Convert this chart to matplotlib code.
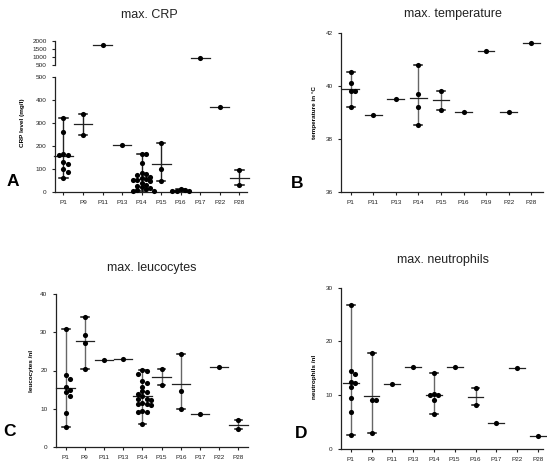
import numpy as np
import matplotlib
matplotlib.use('Agg')
import matplotlib.pyplot as plt

plt.rcParams['font.family'] = ['Liberation Sans', 'DejaVu Sans']

# ---------------------------------------------------------
# Data
# ---------------------------------------------------------
crp_labels = ['P1', 'P9', 'P11', 'P13', 'P14', 'P15', 'P16', 'P17', 'P22', 'P28']
crp_values = [
    [320, 260, 165, 160, 160, 130, 120, 100, 85, 60],
    [340, 250],
    [1700],
    [203],
    [165, 163, 125, 82, 78, 72, 65, 60, 55, 52, 50, 45, 40, 30, 25, 20, 15, 10, 6, 4, 2],
    [213, 100, 45],
    [12, 8, 5, 4, 2],
    [900],
    [370],
    [93, 28],
]

temp_labels = ['P1', 'P11', 'P13', 'P14', 'P15', 'P16', 'P19', 'P22', 'P28']
temp_values = [
    [40.5, 40.1, 39.8, 39.8, 39.2],
    [38.9],
    [39.5],
    [40.8, 39.7, 39.2, 38.5],
    [39.8, 39.1],
    [39.0],
    [41.3],
    [39.0],
    [41.6],
]

leuco_labels = ['P1', 'P9', 'P11', 'P13', 'P14', 'P15', 'P16', 'P17', 'P22', 'P28']
leuco_values = [
    [31.0, 18.8, 17.7, 15.8, 14.8, 14.3, 13.3, 8.8, 5.3],
    [34.0, 29.4, 27.1, 20.5],
    [22.7],
    [23.0],
    [20.1, 19.9, 19.2, 17.3, 16.7, 15.8, 14.5, 14.3, 13.8, 13.3, 12.5, 12.5,
     12.2, 11.5, 11.2, 11.2, 11.0, 9.5, 9.1, 9.0, 6.0],
    [20.3, 16.3],
    [24.4, 14.7, 10.0],
    [8.7],
    [20.9],
    [6.9, 4.6],
]

neutro_labels = ['P1', 'P9', 'P11', 'P13', 'P14', 'P15', 'P16', 'P17', 'P22', 'P28']
neutro_values = [
    [26.7, 14.6, 13.9, 12.5, 12.2, 11.6, 9.5, 6.8, 2.6],
    [17.8, 9.2, 9.2, 2.9],
    [12.0],
    [15.2],
    [14.1, 10.3, 10.0, 10.0, 9.2, 6.6],
    [15.2],
    [11.4, 8.1],
    [4.9],
    [15.1],
    [2.4],
]

FIG_W, FIG_H, DPI = 5.47, 4.62, 100
DOT_PX = 4.2      # spacing used by the swarm layout
TICK_FS = 4.6


def swarm_x(ax, xc, vals):
    """simple beeswarm: spread overlapping points sideways"""
    fig = ax.figure
    bbox = ax.get_position()
    x0, x1 = ax.get_xlim()
    y0, y1 = ax.get_ylim()
    px_x = bbox.width * fig.get_figwidth() * fig.dpi / (x1 - x0)
    px_y = bbox.height * fig.get_figheight() * fig.dpi / (y1 - y0)
    placed = []
    xs = []
    for v in vals:
        yp = v * px_y
        k = 0
        while True:
            step = (k + 1) // 2 * (1 if k % 2 else -1) if k else 0
            xp = step * DOT_PX
            if all((xp - a) ** 2 + (yp - b) ** 2 >= DOT_PX ** 2 for a, b in placed):
                break
            k += 1
        placed.append((xp, yp))
        xs.append(xc + xp / px_x)
    return xs


def style_axis(ax, labels, ylim, yticks, ylabel=None, show_x=True):
    ax.set_ylim(*ylim)
    ax.set_yticks(yticks)
    ax.set_yticklabels([str(t) for t in yticks])
    for s in ['top', 'right']:
        ax.spines[s].set_visible(False)
    for s in ['left', 'bottom']:
        ax.spines[s].set_linewidth(0.9)
        ax.spines[s].set_color('#222222')
    ax.tick_params(axis='both', labelsize=TICK_FS, colors='#222222', length=2.5,
                   width=0.8, pad=3.5)
    if show_x:
        ax.set_xticks(range(len(labels)))
        ax.set_xticklabels(labels)
        ax.tick_params(axis='x', length=2, pad=4)
    else:
        ax.spines['bottom'].set_visible(False)
        ax.set_xticks([])
    if ylabel:
        ax.set_ylabel(ylabel, fontsize=4.6, fontweight='bold', labelpad=7)


def draw_group(ax, xc, vals, mean_hw, cap_hw, vcolor):
    mean = np.mean(vals)
    if len(vals) > 1:
        lo, hi = min(vals), max(vals)
        ax.plot([xc, xc], [lo, hi], color=vcolor, lw=1.0, zorder=2, clip_on=False)
        for y in (lo, hi):
            ax.plot([xc - cap_hw, xc + cap_hw], [y, y], color='#111111', lw=1.1,
                    zorder=2, clip_on=False)
    ax.plot([xc - mean_hw, xc + mean_hw], [mean, mean], color='#222222', lw=0.9,
            zorder=2, clip_on=False)
    xs = swarm_x(ax, xc, vals)
    ax.plot(xs, vals, 'o', color='black', ms=3.7, mec='none', zorder=3, clip_on=False)


fig = plt.figure(figsize=(FIG_W, FIG_H), dpi=DPI)

# ---- Panel A: CRP with broken axis ----
axA = fig.add_axes([55 / 547, 1 - 191.7 / 462, 192 / 547, 114.4 / 462])
axA_top = fig.add_axes([55 / 547, 1 - 64.7 / 462, 192 / 547, 24 / 462])
for a in (axA, axA_top):
    a.set_xlim(-0.43, 9.39)
    a.patch.set_alpha(0)
style_axis(axA, crp_labels, (0, 500), [0, 100, 200, 300, 400, 500])
style_axis(axA_top, crp_labels, (500, 2000), [500, 1000, 1500, 2000], show_x=False)
axA.set_ylabel('CRP level (mg/l)', fontsize=4.6, fontweight='bold', labelpad=8)
axA.yaxis.set_label_coords(-0.155, 0.6)
for i, vals in enumerate(crp_values):
    target = axA_top if min(vals) > 500 else axA
    draw_group(target, i, vals, 0.48, 0.22, '#222222')

# ---- Panel B: temperature ----
axB = fig.add_axes([341 / 547, 1 - 191.7 / 462, 202 / 547, 159 / 462])
axB.set_xlim(-0.43, 8.52)
style_axis(axB, temp_labels, (36, 42), [36, 38, 40, 42], 'temperature in °C')
axB.yaxis.set_label_coords(-0.12, 0.5)
for i, vals in enumerate(temp_values):
    draw_group(axB, i, vals, 0.37, 0.18, '#666666')

# ---- Panel C: leucocytes ----
axC = fig.add_axes([55.7 / 547, 1 - 446.7 / 462, 192.3 / 547, 152.4 / 462])
axC.set_xlim(-0.52, 9.5)
style_axis(axC, leuco_labels, (0, 40), [0, 10, 20, 30, 40], 'leucocytes /nl')
axC.yaxis.set_label_coords(-0.115, 0.5)
for i, vals in enumerate(leuco_values):
    draw_group(axC, i, vals, 0.48, 0.2, '#666666')

# ---- Panel D: neutrophils ----
axD = fig.add_axes([341 / 547, 1 - 449 / 462, 202.3 / 547, 161.3 / 462])
axD.set_xlim(-0.47, 9.26)
style_axis(axD, neutro_labels, (0, 30), [0, 10, 20, 30], 'neutrophils /nl')
axD.yaxis.set_label_coords(-0.12, 0.45)
for i, vals in enumerate(neutro_values):
    draw_group(axD, i, vals, 0.38, 0.19, '#666666')

# ---- titles and panel letters ----
title_kw = dict(fontsize=9, ha='center', va='center', color='#222222')
fig.text(149 / 547, 1 - 15 / 462, 'max. CRP', **title_kw)
fig.text(453 / 547, 1 - 14 / 462, 'max. temperature', **title_kw)
fig.text(152 / 547, 1 - 268 / 462, 'max. leucocytes', **title_kw)
fig.text(443 / 547, 1 - 260 / 462, 'max. neutrophils', **title_kw)

letter_kw = dict(fontsize=12.5, fontweight='bold', ha='center', va='center')
fig.text(13 / 547, 1 - 182 / 462, 'A', **letter_kw)
fig.text(297 / 547, 1 - 183 / 462, 'B', **letter_kw)
fig.text(10 / 547, 1 - 431 / 462, 'C', **letter_kw)
fig.text(301 / 547, 1 - 433 / 462, 'D', **letter_kw)

fig.savefig('out.png', dpi=DPI)
